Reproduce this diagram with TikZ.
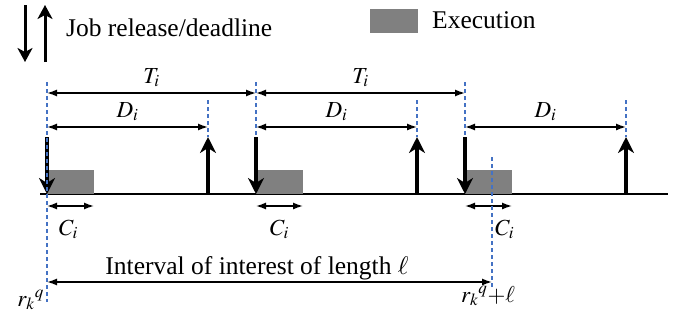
\documentclass[tikz,border=0pt]{standalone}
\usepackage{mathptmx}
\usepackage{fontspec}
\setmainfont{Liberation Serif}
\usepackage{tikz}
\usetikzlibrary{arrows.meta,positioning,calc}
\definecolor{guideblue}{RGB}{68,114,196}
\definecolor{execgray}{RGB}{128,128,128}

\tikzset{
  guide/.style={guideblue, dash pattern=on 4pt off 3pt, line width=1.1pt},
  dim/.style={line width=1.4pt, {Latex[length=10pt,width=7pt]}-{Latex[length=10pt,width=7pt]}},
  jobarrow/.style={line width=3.6pt, -{Stealth[length=16pt,width=16pt,inset=5pt]}},
  legarrow/.style={line width=3pt, -{Stealth[length=14pt,width=15pt,inset=4pt]}},
  execbox/.style={fill=execgray, draw=none, minimum width=47pt, minimum height=24pt, inner sep=0pt},
  lab/.style={font=\fontsize{23}{27}\selectfont, inner sep=0pt},
  txt/.style={font=\fontsize{25.5}{30}\selectfont, inner sep=0pt}
}

\begin{document}
\begin{tikzpicture}[x=1pt, y=-1pt]
  \useasboundingbox (0,0) rectangle (677,324);

  % legend
  \coordinate (legdn) at (25,5);
  \coordinate (legdnend) at (25,62);
  \coordinate (legup) at (45,62);
  \coordinate (legupend) at (45,5);
  \draw[legarrow] (legdn) -- (legdnend);
  \draw[legarrow] (legup) -- (legupend);
  \node[txt, anchor=base west] (jobtxt) at (66,36) {Job release/deadline};
  \node[execbox, minimum width=48pt, anchor=north west] (legbox) at (370,9) {};
  \node[txt, anchor=base west] (exectxt) at (432,28) {Execution};

  % time axis
  \coordinate (axisL) at (40,194);
  \coordinate (axisR) at (668,194);
  \draw[line width=1.5pt] (axisL) -- (axisR);

  % the three jobs
  \foreach \j [evaluate=\j as \x using {47+209*(\j-1)}] in {1,2,3} {
    \coordinate (rel\j) at (\x,194);
    \coordinate (dl\j) at (\x+161,194);
    \coordinate (relup\j) at (\x,137);
    \coordinate (dlup\j) at (\x+161,137);
    \coordinate (reltop\j) at (\x,82);
    \coordinate (dltop\j) at (\x+161,100);
    \coordinate (dA\j) at (\x,127);
    \coordinate (dB\j) at (\x+161,127);
    \coordinate (cA\j) at (\x,206);
    \coordinate (cB\j) at (\x+47,206);
    \coordinate (tA\j) at (\x,93);
    \node[execbox, anchor=south west] (ex\j) at (rel\j) {};
    \draw[jobarrow] (relup\j) -- (rel\j);
    \draw[jobarrow] (dl\j) -- (dlup\j);
    \draw[guide] (dltop\j) -- (dlup\j);
    \draw[dim] (dA\j) -- node[lab, anchor=base, yshift=10pt] (Dlab\j) {$D_i$} (dB\j);
    \draw[dim] (cA\j) -- (cB\j);
  }

  % periods
  \draw[dim] (tA1) -- node[lab, anchor=base, yshift=10pt] (Tlab1) {$T_i$} (tA2);
  \draw[dim] (tA2) -- node[lab, anchor=base, yshift=10pt] (Tlab2) {$T_i$} (tA3);

  % release guides
  \coordinate (rbot) at (47,302);
  \draw[guide] (reltop1) -- (rbot);
  \draw[guide] (reltop2) -- (relup2);
  \draw[guide] (reltop3) -- (relup3);

  % execution labels
  \node[lab, anchor=base] (Clab1) at ($(cA1)!0.5!(cB1)+(-2,29)$) {$C_i$};
  \node[lab, anchor=base] (Clab2) at ($(cA2)!0.5!(cB2)+(0,29)$) {$C_i$};
  \node[lab, anchor=base west] (Clab3) at (495,235) {$C_i$};

  % interval of interest
  \coordinate (ctop) at (492,157);
  \coordinate (cbot) at (492,287);
  \draw[guide] (ctop) -- (cbot);
  \coordinate (iA) at (47,282);
  \coordinate (iB) at (492,282);
  \draw[dim] (iA) -- (iB);
  \node[txt, anchor=base] (itxt) at (257,274) {Interval of interest of length $\ell$};
  \node[lab, anchor=base east] (rq) at (44,306) {$r_k{}^q$};
  \node[lab, anchor=base west] (rql) at (461,302) {$r_k{}^q{+}\ell$};
\end{tikzpicture}
\end{document}
